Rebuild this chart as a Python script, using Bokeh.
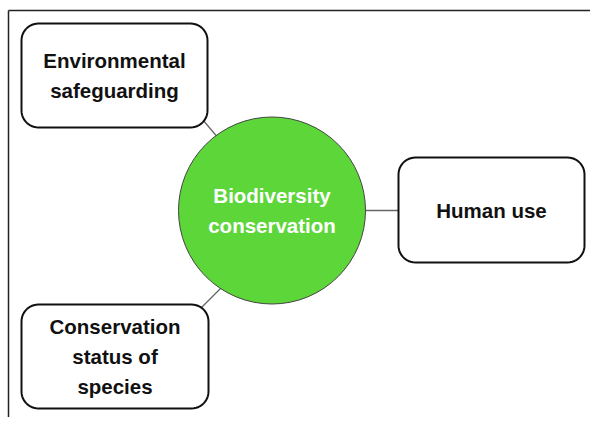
import numpy as np
from bokeh.plotting import figure
from bokeh.models import Range1d
from bokeh.core.properties import value
from bokeh.embed import file_html
from bokeh.resources import INLINE

# ---- content ----
center_label = ["Biodiversity\nconservation"]
node_labels = ["Environmental\nsafeguarding", "Human use", "Conservation\nstatus of\nspecies"]

# ---- layout (pixel-like coordinates) ----
circle_cx, circle_cy, circle_r = [271.5], [210.0], 93.5
box_left = [21, 398, 21]
box_right = [207, 584, 208]
box_top = [23, 157, 304]
box_bottom = [127, 262, 408]
conn_x0 = [197, 360, 226]
conn_y0 = [113, 210, 282]
conn_x1 = [224, 402, 195]
conn_y1 = [145, 210, 313]

W, H = 590, 417
p = figure(width=W, height=H, output_backend="svg", toolbar_location=None,
           x_range=Range1d(0, W), y_range=Range1d(H, 0),
           min_border=0, outline_line_color=None)
p.axis.visible = False
p.grid.visible = False
p.background_fill_color = "white"
p.border_fill_color = "white"

# frame lines (top and left)
p.segment(x0=[8, 8], y0=[10, 10], x1=[W, 8], y1=[10, H],
          line_color="#222222", line_width=1.5)

# connectors
p.segment(x0=conn_x0, y0=conn_y0, x1=conn_x1, y1=conn_y1,
          line_color="#666666", line_width=1.3)

# rounded boxes
def rounded(l, r, t, b, rad=17, n=12):
    xs, ys = [], []
    corners = [(r - rad, t + rad, -np.pi / 2, 0), (r - rad, b - rad, 0, np.pi / 2),
               (l + rad, b - rad, np.pi / 2, np.pi), (l + rad, t + rad, np.pi, 1.5 * np.pi)]
    for cx, cy, a0, a1 in corners:
        a = np.linspace(a0, a1, n)
        xs.extend(cx + rad * np.cos(a))
        ys.extend(cy + rad * np.sin(a))
    return xs, ys

bx, by = [], []
for l, r, t, b in zip(box_left, box_right, box_top, box_bottom):
    xs, ys = rounded(l, r, t, b)
    bx.append(xs)
    by.append(ys)
p.patches(bx, by, fill_color="white", line_color="#111111", line_width=2)

# central circle
p.circle(x=circle_cx, y=circle_cy, radius=circle_r, fill_color="#5DD639",
         line_color="#444444", line_width=1)

# texts
p.text(x=circle_cx, y=circle_cy, text=center_label, text_color="white",
       text_font=value("Liberation Sans"), text_font_style="bold",
       text_font_size="20.5px", text_align="center", text_baseline="middle",
       text_line_height=1.3)

tx = [(l + r) / 2 for l, r in zip(box_left, box_right)]
ty = [(t + b) / 2 for t, b in zip(box_top, box_bottom)]
p.text(x=tx, y=ty, text=node_labels, text_color="#111111",
       text_font=value("Liberation Sans"), text_font_style="bold",
       text_font_size="20.5px", text_align="center", text_baseline="middle",
       text_line_height=1.3)

open("out.html", "w").write(file_html(p, INLINE))
